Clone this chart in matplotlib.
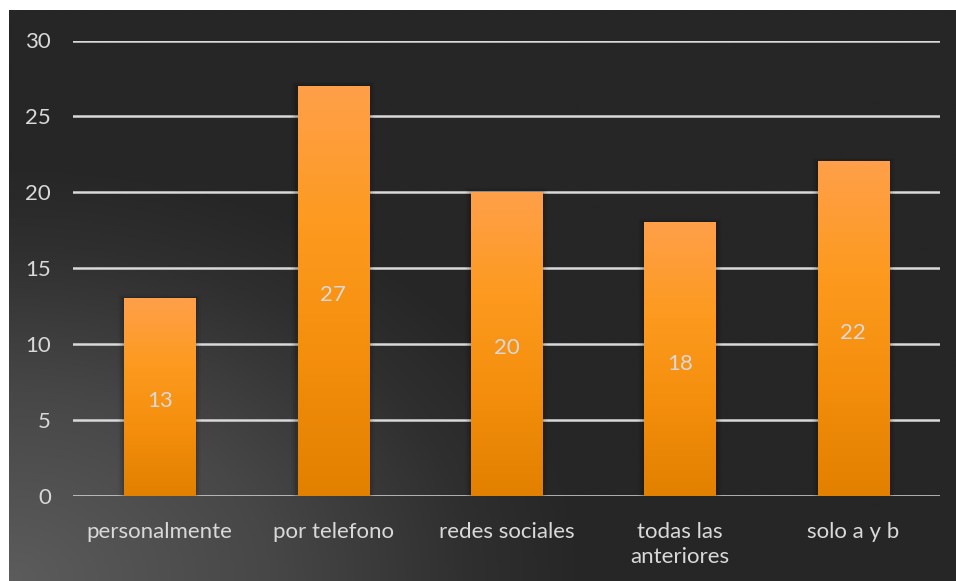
import numpy as np
import matplotlib
matplotlib.use("Agg")
import matplotlib.pyplot as plt
from matplotlib.colors import LinearSegmentedColormap

# datos
categorias = ["personalmente", "por telefono", "redes sociales", "todas las\nanteriores", "solo a y b"]
valores = [13, 27, 20, 18, 22]
yticks = [0, 5, 10, 15, 20, 25, 30]

W, H = 956, 581
TXT = "#d9d9d9"
plt.rcParams["font.family"] = ["Lato", "DejaVu Sans"]

fig = plt.figure(figsize=(W / 100, H / 100), dpi=100, facecolor="white")

# fondo oscuro con degradado radial (mas claro abajo a la izquierda)
PW, PH = W - 9, H - 10
bg = fig.add_axes([9 / W, 0, PW / W, PH / H])
bg.set_axis_off()
gx, gy = np.meshgrid(np.linspace(0, PW, 400), np.linspace(0, PH, 250))
d = np.sqrt((gx / 580) ** 2 + (gy / 420) ** 2)
d = np.clip(d, 0, 1)
bg_cmap = LinearSegmentedColormap.from_list(
    "bg", [(0, "#5c5c5c"), (0.45, "#474747"), (0.8, "#2f2f2f"), (1, "#262626")], N=256)
bg.imshow(d, cmap=bg_cmap, origin="lower", aspect="auto", extent=[0, 1, 0, 1], vmin=0, vmax=1)
bg.set_xlim(0, 1); bg.set_ylim(0, 1)

# grafico
ax = fig.add_axes([73 / W, (H - 496) / H, (940 - 73) / W, (496 - 40.5) / H])
ax.patch.set_alpha(0)
x = np.arange(len(categorias))
bars = ax.bar(x, valores, width=0.41, facecolor="none", edgecolor="none", zorder=3)

bar_cmap = LinearSegmentedColormap.from_list("bar", ["#e28000", "#f48e0c", "#fd9a1f", "#ffa04a"])
grad = np.linspace(0, 1, 256).reshape(-1, 1)
for b, v in zip(bars, valores):
    bx, bw, bh = b.get_x(), b.get_width(), b.get_height()
    # sombra suave
    for k, a in enumerate([0.10, 0.07, 0.04]):
        off = 0.012 * (k + 1)
        ax.fill_between([bx - off, bx + bw + off], 0, bh + off * 8, color="black", alpha=a, zorder=2, lw=0)
    ax.imshow(grad, cmap=bar_cmap, origin="lower", aspect="auto",
              extent=[bx, bx + bw, 0, bh], zorder=3)
    ax.annotate(str(v), (bx + bw / 2, bh / 2), xytext=(0, -3), textcoords="offset points",
                ha="center", va="center", color=TXT, fontsize=16, zorder=4)

ax.set_xlim(-0.5, len(categorias) - 0.5)
ax.set_ylim(0, 30)
ax.set_yticks(yticks)
ax.set_yticklabels([str(t) for t in yticks])
ax.set_xticks(x)
ax.set_xticklabels(categorias, linespacing=1.3)
ax.yaxis.grid(True, color=TXT, linewidth=1.8, zorder=1)
ax.set_axisbelow(True)
for s in ax.spines.values():
    s.set_visible(False)
ax.tick_params(axis="both", length=0, colors=TXT, labelsize=16)
ax.tick_params(axis="y", pad=16)
ax.tick_params(axis="x", pad=19)

fig.savefig("out.png", dpi=100, facecolor="white")
